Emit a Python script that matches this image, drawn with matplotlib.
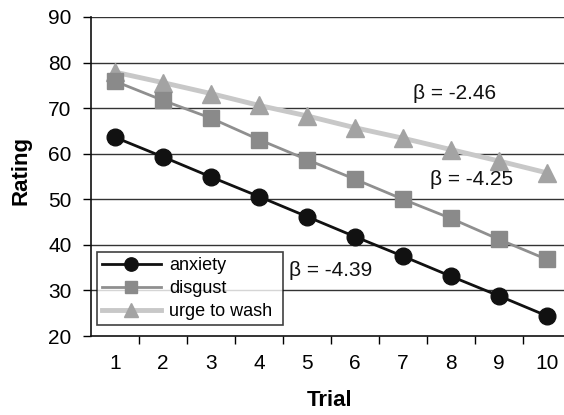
import matplotlib.pyplot as plt
import numpy as np

plt.rcParams['font.family'] = ['Liberation Sans', 'DejaVu Sans']

trials = [1, 2, 3, 4, 5, 6, 7, 8, 9, 10]
anxiety = [63.6, 59.3, 54.9, 50.6, 46.2, 41.8, 37.5, 33.1, 28.8, 24.4]
disgust = [75.9, 71.7, 67.8, 63.1, 58.7, 54.4, 50.0, 45.8, 41.2, 36.8]
urge = [77.9, 75.6, 73.2, 70.6, 68.3, 65.7, 63.4, 60.9, 58.4, 55.8]
betas = ["β = -2.46", "β = -4.25", "β = -4.39"]
beta_pos = [(7.21, 73.3), (7.56, 54.3), (4.62, 34.3)]

W, H = 564, 415
fig = plt.figure(figsize=(W / 100, H / 100), dpi=100)
# plot area runs a little past the right edge, like the cropped original
ax = fig.add_axes([91 / W, 1 - 336 / H, (571 - 91) / W, (336 - 17) / H])

ax.set_xlim(0.5, 10.5)
ax.set_ylim(20, 90)

for v in range(30, 100, 10):
    ax.axhline(v, color='#333333', lw=1.0, zorder=1)

ax.plot(trials, urge, color='#c8c8c8', lw=3.5, marker='^', ms=13,
        mfc='#a3a3a3', mec='#a3a3a3', label='urge to wash', zorder=3)
ax.plot(trials, disgust, color='#8f8f8f', lw=2, marker='s', ms=11,
        mfc='#8a8a8a', mec='#8a8a8a', label='disgust', zorder=4)
ax.plot(trials, anxiety, color='#111111', lw=2, marker='o', ms=12,
        mfc='#111111', mec='#111111', label='anxiety', zorder=5)

for txt, (x, y) in zip(betas, beta_pos):
    ax.text(x, y, txt, fontsize=15, va='center', ha='left', color='#111111',
            zorder=6)

ax.set_xticks(np.arange(1.5, 10.5, 1))
ax.set_xticklabels([])
ax.set_xticks(trials, minor=True)
ax.set_xticklabels([str(t) for t in trials], minor=True, fontsize=15)
ax.tick_params(axis='x', which='major', direction='out', length=6, width=1)
ax.tick_params(axis='x', which='minor', length=0, pad=13)
ax.set_yticks(range(20, 100, 10))
ax.tick_params(axis='y', direction='out', length=6, width=1, labelsize=15,
               pad=8)

for s in ['top', 'right']:
    ax.spines[s].set_visible(False)
for s in ['left', 'bottom']:
    ax.spines[s].set_color('#111111')
    ax.spines[s].set_linewidth(1.2)

fig.text(21 / W, 1 - 170 / H, 'Rating', rotation=90, fontsize=16,
         fontweight='bold', ha='center', va='center')
fig.text(330 / W, 1 - 400 / H, 'Trial', fontsize=16, fontweight='bold',
         ha='center', va='center')

handles, labels = ax.get_legend_handles_labels()
leg = ax.legend(handles[::-1], labels[::-1], loc='lower left',
                bbox_to_anchor=(97 / W, 1 - 325 / H, 186 / W, 75 / H),
                bbox_transform=fig.transFigure, mode='expand',
                fontsize=13, frameon=True, fancybox=False, borderaxespad=0,
                handlelength=3.3, handletextpad=0.45, labelspacing=0.35,
                borderpad=0.25, markerscale=0.8)
leg.get_frame().set_edgecolor('#111111')
leg.get_frame().set_linewidth(1.2)
leg.set_zorder(10)

fig.savefig('out.png', dpi=100)
